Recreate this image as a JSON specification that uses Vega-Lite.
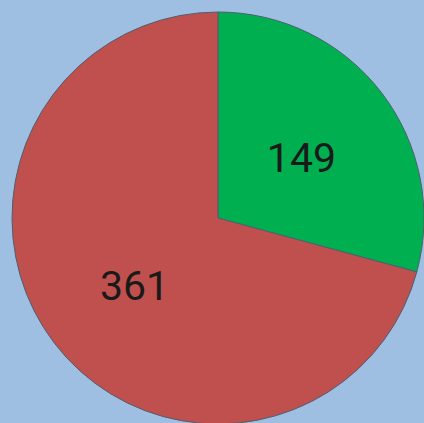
{
  "$schema": "https://vega.github.io/schema/vega-lite/v6.json",
  "width": 424,
  "height": 423,
  "autosize": {"type": "fit", "contains": "padding"},
  "padding": {"left": 12, "top": 13, "right": 0, "bottom": 0},
  "background": "#9fbfe2",
  "view": {"stroke": null},
  "data": {"values": [
    {"cat": "Green", "value": 149, "order": 1},
    {"cat": "Red", "value": 361, "order": 2}
  ]},
  "encoding": {
    "theta": {"field": "value", "type": "quantitative", "stack": true},
    "order": {"field": "order", "type": "quantitative"},
    "color": {"field": "cat", "type": "nominal", "legend": null,
      "scale": {"domain": ["Green", "Red"], "range": ["#00b050", "#c0504d"]}}
  },
  "layer": [
    {"mark": {"type": "arc", "outerRadius": 206, "stroke": "#4f5f70", "strokeWidth": 1}},
    {"mark": {"type": "text", "radius": 105, "dy": 6, "font": "Roboto", "fontSize": 41, "color": "#1a1a1a", "baseline": "middle", "align": "center"},
     "encoding": {"text": {"field": "value", "type": "quantitative"}, "color": {"value": "#1a1a1a"}}}
  ]
}
